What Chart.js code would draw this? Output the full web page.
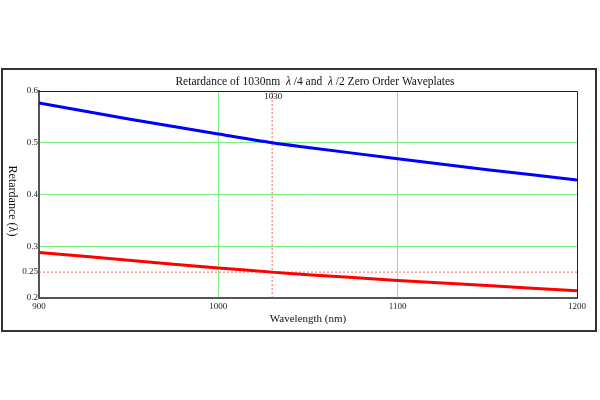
<!DOCTYPE html>
<html>
<head>
<meta charset="utf-8">
<script src="https://cdn.jsdelivr.net/npm/chart.js@4/dist/chart.umd.min.js"></script>
<style>
  html, body { margin: 0; padding: 0; background: #fff; }
  #wrap { width: 600px; height: 400px; }
</style>
</head>
<body>
<div id="wrap"><canvas id="chart" width="600" height="400"></canvas></div>
<script>
// wavelengths (nm) and retardance
const wavelengths = [900, 950, 1000, 1030, 1050, 1100, 1150, 1200];
const halfWave = [0.577, 0.546, 0.517, 0.500, 0.491, 0.469, 0.448, 0.428];
const quarterWave = [0.288, 0.273, 0.258, 0.250, 0.245, 0.234, 0.224, 0.214];

// marker lines
const markerWavelength = 1030;
const markerRetardance = 0.25;

const xTicks = [900, 1000, 1100, 1200];
const yTicks = [0.2, 0.25, 0.3, 0.4, 0.5, 0.6];
const greenX = [1000, 1100];
const greenY = [0.3, 0.4, 0.5];

const serif = '"Liberation Serif", "DejaVu Serif", serif';

const toPoints = (xs, ys) => xs.map((x, i) => ({ x: x, y: ys[i] }));

const framePlugin = {
    id: 'frame',
    beforeDraw(chart) {
        const c = chart.ctx;
        c.save();
        c.fillStyle = '#fff';
        c.fillRect(0, 0, chart.width, chart.height);
        c.strokeStyle = '#333';
        c.lineWidth = 2;
        c.strokeRect(2, 69, 594, 262);
        c.restore();
    },
    afterDraw(chart) {
        const a = chart.chartArea;
        const c = chart.ctx;
        c.save();
        // top and right edges of the plot box
        c.strokeStyle = '#222';
        c.lineWidth = 1;
        c.beginPath();
        c.moveTo(a.left, a.top + 0.5);
        c.lineTo(a.right + 0.5, a.top + 0.5);
        c.lineTo(a.right + 0.5, a.bottom);
        c.stroke();
        c.fillStyle = '#111';
        c.textBaseline = 'middle';
        // title, lambda in italic
        const parts = [
            ['Retardance of 1030nm  ', false], ['\u03bb', true], [' /4 and  ', false],
            ['\u03bb', true], [' /2 Zero Order Waveplates', false]
        ];
        const fnt = (it) => (it ? 'italic ' : '') + '11.5px ' + serif;
        let w = 0;
        parts.forEach(p => { c.font = fnt(p[1]); w += c.measureText(p[0]).width; });
        let x = 315 - w / 2;
        c.textAlign = 'left';
        parts.forEach(p => { c.font = fnt(p[1]); c.fillText(p[0], x, 81.5); x += c.measureText(p[0]).width; });
        // y axis title, reading top to bottom
        c.save();
        c.translate(12, 201);
        c.rotate(Math.PI / 2);
        c.textAlign = 'center';
        c.font = '12px ' + serif;
        c.fillText('Retardance (\u03bb)', 0, 0);
        c.restore();
        // label of the marker line
        const mx = chart.scales.x.getPixelForValue(markerWavelength);
        c.textAlign = 'center';
        c.font = '9px ' + serif;
        c.fillText(String(markerWavelength), mx + 1, a.top + 6);
        c.restore();
    }
};

const ctx = document.getElementById('chart').getContext('2d');
const chart = new Chart(ctx, {
    type: 'line',
    data: {
        datasets: [
            {
                label: 'lambda/2',
                data: toPoints(wavelengths, halfWave),
                borderColor: '#0000ff',
                borderWidth: 3,
                pointRadius: 0,
                tension: 0.3
            },
            {
                label: 'lambda/4',
                data: toPoints(wavelengths, quarterWave),
                borderColor: '#ff0000',
                borderWidth: 3,
                pointRadius: 0,
                tension: 0.3
            },
            {
                label: '0.25',
                data: [{ x: xTicks[0], y: markerRetardance }, { x: xTicks[xTicks.length - 1], y: markerRetardance }],
                borderColor: 'rgba(255,90,90,0.9)',
                borderWidth: 1,
                borderDash: [2, 2],
                pointRadius: 0
            },
            {
                label: '1030',
                data: [{ x: markerWavelength, y: yTicks[0] }, { x: markerWavelength, y: yTicks[yTicks.length - 1] }],
                borderColor: 'rgba(255,90,90,0.9)',
                borderWidth: 1,
                borderDash: [2, 2],
                pointRadius: 0
            }
        ]
    },
    options: {
        responsive: false,
        animation: false,
        layout: { padding: { left: 0, top: 91, right: 23, bottom: 69 } },
        plugins: {
            legend: { display: false },
            tooltip: { enabled: false }
        },
        scales: {
            x: {
                type: 'linear',
                min: 900,
                max: 1200,
                afterBuildTicks: (s) => { s.ticks = xTicks.map(v => ({ value: v })); },
                afterFit: (s) => { s.height = 33; },
                border: { color: '#555', width: 2 },
                grid: {
                    drawTicks: false,
                    color: (c) => greenX.includes(c.tick && c.tick.value) ? '#80f080' : 'rgba(0,0,0,0)',
                    lineWidth: 1
                },
                ticks: {
                    padding: 3,
                    color: '#222',
                    font: { family: serif, size: 9 },
                    callback: (v) => String(v)
                },
                title: {
                    display: true,
                    text: 'Wavelength (nm)',
                    color: '#111',
                    font: { family: serif, size: 11 },
                    padding: { top: 0, bottom: 5 }
                }
            },
            y: {
                min: 0.2,
                max: 0.6,
                afterBuildTicks: (s) => { s.ticks = yTicks.map(v => ({ value: v })); },
                afterFit: (s) => { s.width = 39; },
                border: { color: '#555', width: 2 },
                grid: {
                    drawTicks: false,
                    color: (c) => greenY.some(g => Math.abs(g - (c.tick && c.tick.value)) < 1e-9) ? '#80f080' : 'rgba(0,0,0,0)',
                    lineWidth: 1
                },
                ticks: {
                    padding: 1,
                    color: '#222',
                    font: { family: serif, size: 9 },
                    callback: (v) => String(v)
                },
                title: { display: false }
            }
        }
    },
    plugins: [framePlugin]
});
</script>
</body>
</html>
